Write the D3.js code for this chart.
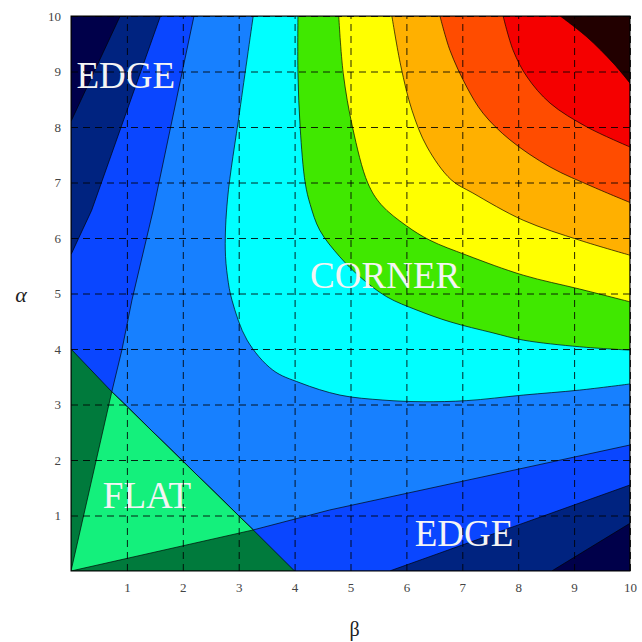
<!DOCTYPE html>
<html>
<head>
<meta charset="utf-8">
<script src="https://cdn.jsdelivr.net/npm/d3@7"></script>
<style>
  body { margin: 0; background: #fff; }
  svg { display: block; }
</style>
</head>
<body>
<svg width="642" height="642"></svg>
<script>
// tick labels
var betaTicks = [1, 2, 3, 4, 5, 6, 7, 8, 9, 10]
var alphaTicks = [1, 2, 3, 4, 5, 6, 7, 8, 9, 10]

// contour boundaries, as [beta, alpha]
// straight bands along the two axes (edge response)
var navyLeft = [[0, 8.1], [0.88, 10]]
var navyBottom = [[8.6, 0], [10, 0.86]]
var blueLeft = [[0, 5.7], [0.37, 6.5], [1.6, 10]]
var blueBottom = [[5.7, 0], [10, 1.55]]
var midLeft = [[0.73, 3.23], [0.91, 3.98], [1.09, 4.88], [1.47, 6.5], [2.2, 10]]
var midBottom = [[3.26, 0.74], [4.63, 1.1], [10, 2.27]]

// curved bands towards the corner
var cyanCurve = [[3.26, 10], [3.02, 8.3], [2.8, 6.7], [2.76, 5.8], [2.8, 5.3], [2.88, 4.88],
    [3.15, 4.16], [3.61, 3.62], [4.1, 3.39], [4.81, 3.17], [5.58, 3.08], [6.3, 3.05],
    [7.08, 3.07], [8.09, 3.17], [9.1, 3.26], [10, 3.37]]
var greenCurve = [[4.06, 10], [4.06, 8.97], [4.1, 7.98], [4.19, 6.99], [4.28, 6.6], [4.45, 6.14],
    [4.81, 5.66], [5.17, 5.3], [5.65, 4.94], [6.19, 4.7], [6.78, 4.49], [7.55, 4.29],
    [8.09, 4.16], [9.1, 4.04], [10, 3.98]]
var yellowCurve = [[4.79, 10], [4.87, 8.97], [5.04, 7.98], [5.31, 6.99], [5.55, 6.6], [6.0, 6.22],
    [6.42, 5.96], [7.08, 5.69], [8.09, 5.33], [9.1, 5.08], [10, 4.85]]
var orangeCurve = [[5.74, 10], [5.9, 9.1], [6.1, 8.3], [6.37, 7.64], [6.8, 7.05], [7.19, 6.81],
    [8.09, 6.32], [9.1, 5.96], [10, 5.69]]
var redOrangeCurve = [[6.6, 10], [6.78, 9.38], [7.08, 8.72], [7.37, 8.25], [7.85, 7.77],
    [8.57, 7.28], [9.34, 6.92], [10, 6.64]]
var redCurve = [[7.73, 10], [7.91, 9.38], [8.16, 8.9], [8.57, 8.43], [9.23, 8.0], [10, 7.64]]
var darkCurve = [[8.75, 10], [9.23, 9.62], [9.7, 9.15], [10, 8.79]]

// flat region near the origin
var flatOuter = [[0, 0], [0, 4], [0.73, 3.23], [3.26, 0.74], [4, 0]]
var flatInner = [[0, 0], [0.73, 3.23], [3.26, 0.74]]

// region labels
var labels = [
    { text: 'EDGE', beta: 0.98, alpha: 8.7 },
    { text: 'CORNER', beta: 5.62, alpha: 5.1 },
    { text: 'FLAT', beta: 1.36, alpha: 1.14 },
    { text: 'EDGE', beta: 7.03, alpha: 0.45 }
]

var svg = d3.select('svg')
var plotL = 71, plotR = 630, plotT = 16, plotB = 571

var x = d3.scaleLinear().domain([0, 10]).range([plotL, plotR])
var y = d3.scaleLinear().domain([0, 10]).range([plotB, plotT])

var straight = d3.line().x(d => x(d[0])).y(d => y(d[1])).curve(d3.curveLinearClosed)
var smooth = d3.line().x(d => x(d[0])).y(d => y(d[1])).curve(d3.curveCatmullRom)

// polygons painted from lowest level up
var bands = [
    { color: '#00004a', d: straight([[0, 0], [0, 10], [10, 10], [10, 0]]) },
    { color: '#002380', d: straight(navyLeft.concat([[10, 10]], navyBottom.slice().reverse(), [[0, 0]])) },
    { color: '#0a46ff', d: straight(blueLeft.concat([[10, 10]], blueBottom.slice().reverse(), [[0, 0]])) },
    { color: '#1780ff', d: straight(midLeft.concat([[10, 10]], midBottom.slice().reverse())) },
    { color: '#00ffff', curve: cyanCurve },
    { color: '#40e800', curve: greenCurve },
    { color: '#ffff00', curve: yellowCurve },
    { color: '#ffb000', curve: orangeCurve },
    { color: '#ff4c00', curve: redOrangeCurve },
    { color: '#f50000', curve: redCurve },
    { color: '#220000', curve: darkCurve },
    { color: '#007a3c', d: straight(flatOuter) },
    { color: '#14f07c', d: straight(flatInner) }
]

svg.append('defs').append('clipPath').attr('id', 'plot')
    .append('rect')
    .attr('x', plotL).attr('y', plotT)
    .attr('width', plotR - plotL).attr('height', plotB - plotT)

var plot = svg.append('g').attr('clip-path', 'url(#plot)')

plot.selectAll('path.band').data(bands).enter().append('path')
    .attr('class', 'band')
    .attr('d', function (b) {
        if (b.d) return b.d
        return smooth(b.curve) + 'L' + x(10) + ',' + y(10) + 'Z'
    })
    .attr('fill', b => b.color)
    .attr('stroke', '#000')
    .attr('stroke-width', 0.8)
    .attr('stroke-opacity', 0.85)

// dashed grid with tick labels
svg.append('g')
    .attr('transform', 'translate(0,' + plotB + ')')
    .call(d3.axisBottom(x).tickValues(betaTicks).tickSize(-(plotB - plotT)).tickPadding(12))
svg.append('g')
    .attr('transform', 'translate(' + plotL + ',0)')
    .call(d3.axisLeft(y).tickValues(alphaTicks).tickSize(-(plotR - plotL)).tickPadding(10))

svg.selectAll('.domain').remove()
svg.selectAll('.tick line')
    .attr('stroke', '#000')
    .attr('stroke-width', 1)
    .attr('stroke-dasharray', '7,5')
    .attr('stroke-opacity', 0.85)
svg.selectAll('.tick text')
    .attr('font-family', '"Liberation Serif", serif')
    .attr('font-size', 13)
    .attr('fill', '#444')

// axes box
svg.append('rect')
    .attr('x', plotL).attr('y', plotT)
    .attr('width', plotR - plotL).attr('height', plotB - plotT)
    .attr('fill', 'none')
    .attr('stroke', '#000')
    .attr('stroke-width', 1)

plot.selectAll('text.label').data(labels).enter().append('text')
    .attr('class', 'label')
    .attr('x', d => x(d.beta))
    .attr('y', d => y(d.alpha))
    .attr('text-anchor', 'middle')
    .attr('font-family', '"Liberation Serif", serif')
    .attr('font-size', 37)
    .attr('fill', '#f4f4f4')
    .text(d => d.text)

// axis titles
svg.append('text')
    .attr('x', (plotL + plotR) / 2 + 4)
    .attr('y', 636)
    .attr('text-anchor', 'middle')
    .attr('font-family', '"Liberation Serif", serif')
    .attr('font-size', 20)
    .attr('fill', '#222')
    .text('β')
svg.append('text')
    .attr('x', 21)
    .attr('y', 302)
    .attr('text-anchor', 'middle')
    .attr('font-family', '"Liberation Serif", serif')
    .attr('font-style', 'italic')
    .attr('font-size', 22)
    .attr('fill', '#222')
    .text('α')
</script>
</body>
</html>
